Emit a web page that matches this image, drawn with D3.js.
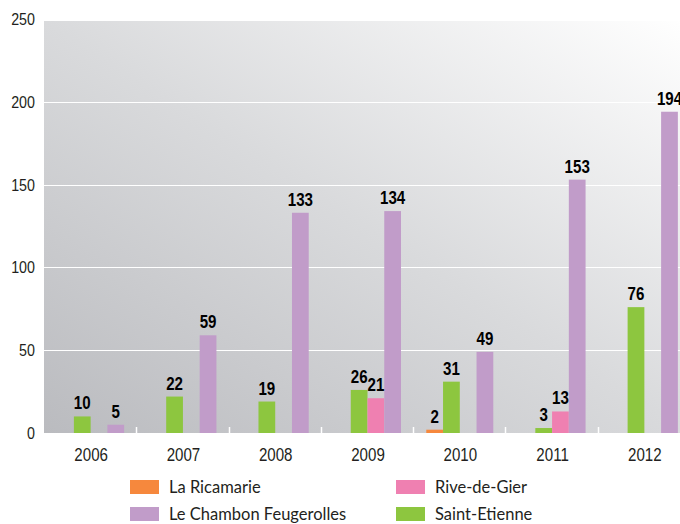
<!DOCTYPE html>
<html>
<head>
<meta charset="utf-8">
<script src="https://cdn.jsdelivr.net/npm/d3@7"></script>
<style>
  body { margin: 0; background: #fff; }
  .tick-label { font-family: "Liberation Sans", sans-serif; font-size: 18px; fill: #231f20; }
  .value { font-family: "Liberation Sans", sans-serif; font-weight: bold; font-size: 18px; fill: #000; }
  .legend { font-family: Lato, sans-serif; font-size: 16.5px; fill: #231f20; }
</style>
</head>
<body>
<script>
// years on the x axis
var years = ["2006", "2007", "2008", "2009", "2010", "2011", "2012"];

// series values (null = no bar)
var laRicamarie   = [null, null, null, null, 2, null, null];
var saintEtienne  = [10, 22, 19, 26, 31, 3, 76];
var riveDeGier    = [null, null, null, 21, null, 13, null];
var leChambon     = [5, 59, 133, 134, 49, 153, 194];

var yTicks = [0, 50, 100, 150, 200, 250];

// series in drawing order inside a group
var series = [
  {name: "La Ricamarie", values: laRicamarie, color: "#f6883d"},
  {name: "Saint-Etienne", values: saintEtienne, color: "#8dc63f"},
  {name: "Rive-de-Gier", values: riveDeGier, color: "#ef80b1"},
  {name: "Le Chambon Feugerolles", values: leChambon, color: "#c19cc9"}
];

// legend order (two columns)
var legendOrder = ["La Ricamarie", "Le Chambon Feugerolles", "Rive-de-Gier", "Saint-Etienne"];

var W = 680, H = 524;
var plotLeft = 44, plotRight = 690, plotBottom = 433, plotTop = 19;
var narrow = 0.84; // condensed look for the number labels

var svg = d3.select("body").append("svg")
    .attr("width", W)
    .attr("height", H);

var x0 = d3.scaleBand().domain(years).range([plotLeft, plotRight]);
var x1 = d3.scaleBand().domain(series.map(function(s) { return s.name; }))
    .range([0, x0.bandwidth()])
    .paddingOuter(0.755)
    .align(0.52);
var y = d3.scaleLinear().domain([0, 250]).range([plotBottom, plotTop]);

// background gradient
var grad = svg.append("defs").append("linearGradient")
    .attr("id", "bg")
    .attr("x1", 0).attr("y1", 1)
    .attr("x2", 1).attr("y2", 0);
grad.append("stop").attr("offset", 0).attr("stop-color", "#babbbf");
grad.append("stop").attr("offset", 0.5).attr("stop-color", "#d9dadc");
grad.append("stop").attr("offset", 1).attr("stop-color", "#ffffff");

svg.append("rect")
    .attr("x", plotLeft)
    .attr("y", y(250) + 2)
    .attr("width", plotRight - plotLeft)
    .attr("height", plotBottom - y(250) - 2)
    .attr("fill", "url(#bg)");

// gridlines
svg.selectAll("line.grid")
    .data(yTicks.filter(function(d) { return d > 0 && d < 250; }))
    .enter().append("line")
      .attr("class", "grid")
      .attr("x1", plotLeft).attr("x2", plotRight)
      .attr("y1", function(d) { return Math.round(y(d)) + 0.5; })
      .attr("y2", function(d) { return Math.round(y(d)) + 0.5; })
      .attr("stroke", "#fff")
      .attr("stroke-width", 1.2);

// bars
var groups = svg.selectAll("g.year")
    .data(years)
    .enter().append("g")
      .attr("class", "year")
      .attr("transform", function(d) { return "translate(" + x0(d) + ",0)"; });

series.forEach(function(s) {
  groups.filter(function(d, i) { return s.values[i] != null; })
    .append("rect")
      .attr("x", x1(s.name))
      .attr("width", x1.bandwidth())
      .attr("y", function(d) { return y(s.values[years.indexOf(d)]); })
      .attr("height", function(d) { return plotBottom - y(s.values[years.indexOf(d)]); })
      .attr("fill", s.color);
});

// white ticks between groups
svg.selectAll("line.sep")
    .data(years.slice(1))
    .enter().append("line")
      .attr("x1", function(d) { return Math.round(x0(d)) + 0.5; })
      .attr("x2", function(d) { return Math.round(x0(d)) + 0.5; })
      .attr("y1", plotBottom).attr("y2", plotBottom - 6)
      .attr("stroke", "#fff")
      .attr("stroke-width", 1.5);

// value labels
series.forEach(function(s) {
  groups.filter(function(d, i) { return s.values[i] != null; })
    .append("text")
      .attr("class", "value")
      .attr("text-anchor", "middle")
      .attr("transform", function(d) {
        return "translate(" + (x1(s.name) + x1.bandwidth() / 2) + "," +
          (y(s.values[years.indexOf(d)]) - 7) + ") scale(" + narrow + ",1)";
      })
      .text(function(d) { return s.values[years.indexOf(d)]; });
});

// y axis labels
svg.selectAll("text.ylab")
    .data(yTicks)
    .enter().append("text")
      .attr("class", "tick-label")
      .attr("text-anchor", "end")
      .attr("transform", function(d) { return "translate(35," + y(d) + ") scale(" + narrow + ",1)"; })
      .attr("dy", "0.35em")
      .style("font-size", "17px")
      .text(function(d) { return d; });

// x axis labels
svg.selectAll("text.xlab")
    .data(years)
    .enter().append("text")
      .attr("class", "tick-label")
      .attr("text-anchor", "middle")
      .attr("transform", function(d) {
        return "translate(" + (x0(d) + x0.bandwidth() / 2 + 1) + ",461) scale(" + narrow + ",1)";
      })
      .text(function(d) { return d; });

// legend
var legend = svg.selectAll("g.legend")
    .data(legendOrder)
    .enter().append("g")
      .attr("transform", function(d, i) {
        return "translate(" + (i < 2 ? 130 : 396) + "," + (480 + (i % 2) * 27) + ")";
      });

legend.append("rect")
    .attr("width", 29)
    .attr("height", 14)
    .attr("fill", function(d) {
      return series.filter(function(s) { return s.name === d; })[0].color;
    });

legend.append("text")
    .attr("class", "legend")
    .attr("x", 39)
    .attr("y", 13)
    .text(function(d) { return d; });
</script>
</body>
</html>
